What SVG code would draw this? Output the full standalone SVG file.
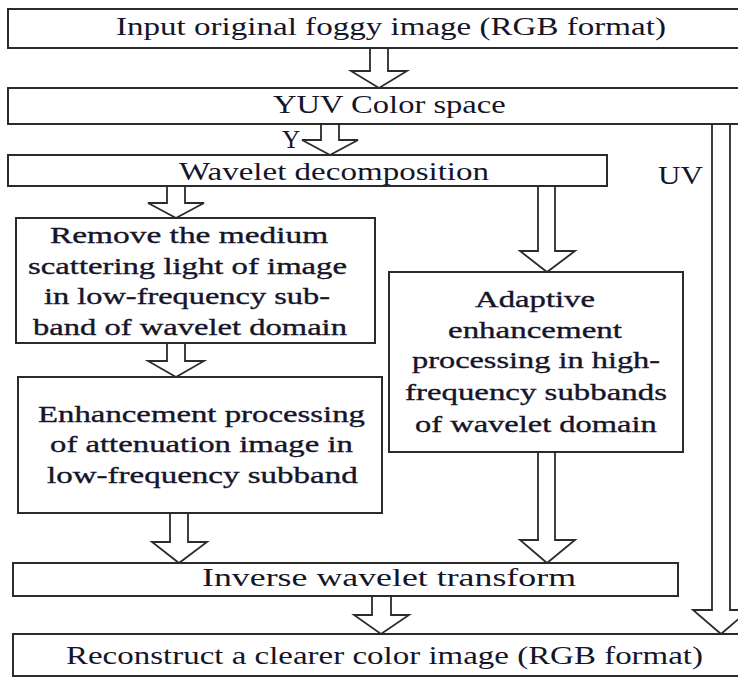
<svg xmlns="http://www.w3.org/2000/svg" width="738" height="677" viewBox="0 0 738 677">
  <style>
    .box { fill: #ffffff; stroke: #2b2b2b; stroke-width: 2; }
    .arrow { fill: #ffffff; stroke: #2b2b2b; stroke-width: 1.8; stroke-linejoin: miter; }
    text { font-family: "Liberation Serif", "Times New Roman", serif; fill: #15152a; }
    .t1 { font-size: 25px; }
    .t2 { font-size: 24px; stroke: #15152a; stroke-width: 0.35; }
  </style>
  <rect width="738" height="677" fill="#ffffff"/>

  <!-- block arrows between steps -->
  <g id="connectors">
    <polygon class="arrow" points="370,48 388,48 388,71 407,71 379,88 351,71 370,71"/>
    <polygon class="arrow" points="321,124 339,124 339,140 358,140 330,155 302,140 321,140"/>
    <polygon class="arrow" points="167,186 185,186 185,203 204,203 176,218 148,203 167,203"/>
    <polygon class="arrow" points="538,186 555,186 555,251 575,251 547,272 520,251 538,251"/>
    <polygon class="arrow" points="167,343 185,343 185,361 204,361 176,377 148,361 167,361"/>
    <polygon class="arrow" points="170,513 188,513 188,542 207,542 179,563 152,542 170,542"/>
    <polygon class="arrow" points="538,452 555,452 555,540 575,540 547,563 520,540 538,540"/>
    <polygon class="arrow" points="372,596 391,596 391,615 409,615 381,634 354,615 372,615"/>
    <polygon class="arrow" points="712,124 730,124 730,610 749,610 721,634 693,610 712,610"/>
    <text class="t1" transform="translate(282,148) scale(1.3,1)" textLength="14" lengthAdjust="spacingAndGlyphs">Y</text>
    <text class="t1" transform="translate(658,184) scale(1.3,1)" textLength="34.6" lengthAdjust="spacingAndGlyphs">UV</text>
  </g>

  <g id="input">
    <rect class="box" x="8" y="9" width="740" height="39"/>
    <text class="t1" transform="translate(116,35) scale(1.3,1)" textLength="423" lengthAdjust="spacingAndGlyphs">Input original foggy image (RGB format)</text>
  </g>

  <g id="yuv">
    <rect class="box" x="8" y="88" width="740" height="36"/>
    <text class="t1" transform="translate(273,113) scale(1.3,1)" textLength="179" lengthAdjust="spacingAndGlyphs">YUV Color space</text>
  </g>

  <g id="decompose">
    <rect class="box" x="8" y="155" width="599" height="31"/>
    <text class="t1" transform="translate(179,180) scale(1.3,1)" textLength="238.5" lengthAdjust="spacingAndGlyphs">Wavelet decomposition</text>
  </g>

  <g id="remove-scatter">
    <rect class="box" x="16" y="218" width="359" height="125"/>
    <text class="t2" transform="translate(50,243) scale(1.3,1)" textLength="214" lengthAdjust="spacingAndGlyphs">Remove the medium</text>
    <text class="t2" transform="translate(28,274) scale(1.3,1)" textLength="245.4" lengthAdjust="spacingAndGlyphs">scattering light of image</text>
    <text class="t2" transform="translate(44,304) scale(1.3,1)" textLength="220" lengthAdjust="spacingAndGlyphs">in low-frequency sub-</text>
    <text class="t2" transform="translate(33,335) scale(1.3,1)" textLength="241.5" lengthAdjust="spacingAndGlyphs">band of wavelet domain</text>
  </g>

  <g id="enhance-low">
    <rect class="box" x="18" y="377" width="364" height="136"/>
    <text class="t2" transform="translate(38,422) scale(1.3,1)" textLength="251.5" lengthAdjust="spacingAndGlyphs">Enhancement processing</text>
    <text class="t2" transform="translate(50,452) scale(1.3,1)" textLength="233" lengthAdjust="spacingAndGlyphs">of attenuation image in</text>
    <text class="t2" transform="translate(47,483) scale(1.3,1)" textLength="239" lengthAdjust="spacingAndGlyphs">low-frequency subband</text>
  </g>

  <g id="enhance-high">
    <rect class="box" x="389" y="272" width="294" height="180"/>
    <text class="t2" transform="translate(475,307) scale(1.3,1)" textLength="92.3" lengthAdjust="spacingAndGlyphs">Adaptive</text>
    <text class="t2" transform="translate(448,338) scale(1.3,1)" textLength="133.8" lengthAdjust="spacingAndGlyphs">enhancement</text>
    <text class="t2" transform="translate(412,368) scale(1.3,1)" textLength="190.8" lengthAdjust="spacingAndGlyphs">processing in high-</text>
    <text class="t2" transform="translate(405,400) scale(1.3,1)" textLength="201.5" lengthAdjust="spacingAndGlyphs">frequency subbands</text>
    <text class="t2" transform="translate(415,432) scale(1.3,1)" textLength="186" lengthAdjust="spacingAndGlyphs">of wavelet domain</text>
  </g>

  <g id="inverse">
    <rect class="box" x="13" y="563" width="665" height="33"/>
    <text class="t1" transform="translate(202,586) scale(1.3,1)" textLength="287.7" lengthAdjust="spacingAndGlyphs">Inverse wavelet transform</text>
  </g>

  <g id="reconstruct">
    <rect class="box" x="13" y="634" width="740" height="42"/>
    <text class="t1" transform="translate(66,664) scale(1.3,1)" textLength="490" lengthAdjust="spacingAndGlyphs">Reconstruct a clearer color image (RGB format)</text>
  </g>
</svg>
